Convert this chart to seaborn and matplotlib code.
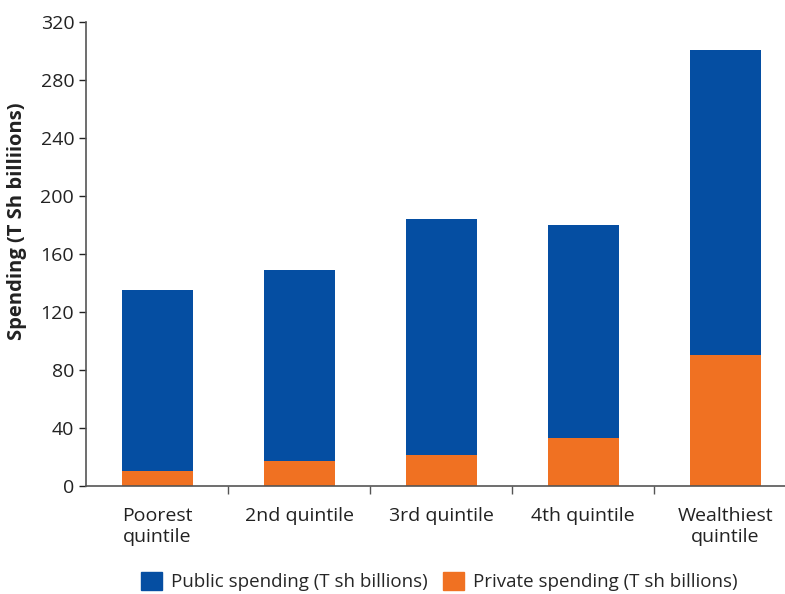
import numpy as np
import seaborn as sns
import matplotlib.pyplot as plt
from matplotlib.patches import Patch

categories = ["Poorest\nquintile", "2nd quintile", "3rd quintile", "4th quintile", "Wealthiest\nquintile"]
public = [125, 132, 163, 147, 211]
private = [10, 17, 21, 33, 90]
yticks = [0, 40, 80, 120, 160, 200, 240, 280, 320]

blue = "#054EA2"
orange = "#F07122"

sns.set_style("white")
plt.rcParams['font.family'] = ['Open Sans', 'DejaVu Sans']

fig = plt.figure(figsize=(7.85, 5.94), dpi=100)
ax = fig.add_axes([0.1096, 0.182, 0.8904, 0.781])

total = np.array(public) + np.array(private)
sns.barplot(x=categories, y=total, color=blue, width=0.5, saturation=1, linewidth=0, ax=ax)
sns.barplot(x=categories, y=private, color=orange, width=0.5, saturation=1, linewidth=0, ax=ax)

ax.set_ylim(0, 320)
ax.set_xlim(-0.5, 4.42)
ax.set_yticks(yticks)
ax.set_ylabel("Spending (T Sh billiions)", fontsize=14.5, fontweight="bold", color="#222222")
ax.yaxis.set_label_coords(-0.085, 0.57)
ax.tick_params(axis="y", labelsize=14, colors="#222222", length=5, width=1, left=True, direction="out")
ax.tick_params(axis="x", which="major", length=0, labelsize=14, colors="#222222", pad=15)
ax.set_xticks([0.5, 1.5, 2.5, 3.5], minor=True)
ax.tick_params(axis="x", which="minor", length=6, width=1, color="#555555", bottom=True, direction="out")

sns.despine(ax=ax)
for s in ["left", "bottom"]:
    ax.spines[s].set_color("#555555")
    ax.spines[s].set_linewidth(1.2)

handles = [Patch(color=blue, label="Public spending (T sh billions)"),
           Patch(color=orange, label="Private spending (T sh billions)")]
fig.legend(handles=handles, loc="lower center", bbox_to_anchor=(0.56, -0.024), ncol=2,
           frameon=False, fontsize=13.5, handlelength=1.1, handleheight=1.1,
           handletextpad=0.5, columnspacing=0.8)

fig.savefig("out.png", dpi=100)
